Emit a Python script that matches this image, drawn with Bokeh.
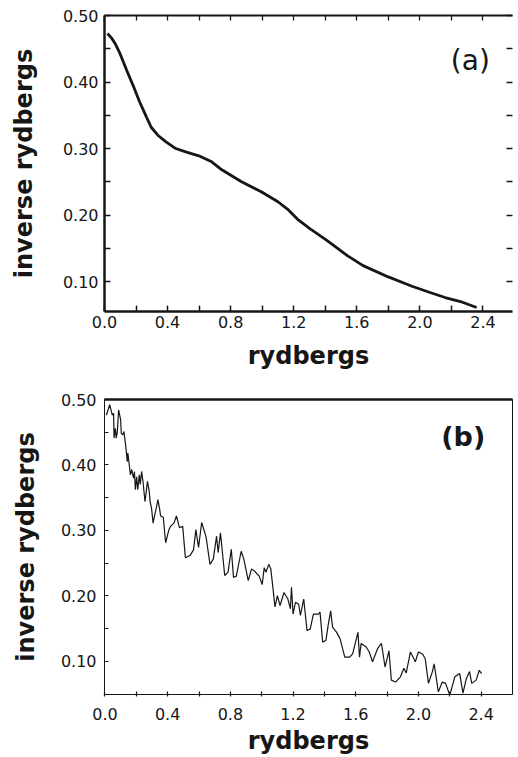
from bokeh.plotting import figure
from bokeh.models import (Range1d, LinearAxis, FixedTicker, Label, PrintfTickFormatter,
                          CustomLabelingPolicy)
from bokeh.layouts import column
from bokeh.embed import file_html
from bokeh.resources import INLINE

# ---------------- data ----------------
x_ticks = [0.0, 0.4, 0.8, 1.2, 1.6, 2.0, 2.4]
x_minor = [0.2, 0.6, 1.0, 1.4, 1.8, 2.2]
y_ticks = [0.10, 0.20, 0.30, 0.40, 0.50]
y_minor = [0.15, 0.25, 0.35, 0.45]
y_all = [0.10, 0.15, 0.20, 0.25, 0.30, 0.35, 0.40, 0.45, 0.50]

# panel (a): smooth curve
xa = [0.019, 0.045, 0.067, 0.098, 0.140, 0.181, 0.223, 0.265, 0.296, 0.338,
      0.390, 0.452, 0.515, 0.598, 0.680, 0.744, 0.869, 0.994, 1.100, 1.160,
      1.223, 1.300, 1.410, 1.540, 1.640, 1.800, 1.950, 2.060, 2.160, 2.270,
      2.360]
ya = [0.473, 0.466, 0.458, 0.443, 0.418, 0.395, 0.370, 0.348, 0.332, 0.320,
      0.310, 0.300, 0.295, 0.289, 0.280, 0.268, 0.250, 0.235, 0.220, 0.209,
      0.194, 0.180, 0.162, 0.139, 0.124, 0.107, 0.093, 0.084, 0.076, 0.069,
      0.061]

# panel (b): noisy curve
xb = [0.009, 0.030, 0.047, 0.055, 0.058, 0.066, 0.072, 0.079, 0.087, 0.100,
      0.104, 0.114, 0.121, 0.129, 0.135, 0.142, 0.146, 0.156, 0.162, 0.171,
      0.177, 0.183, 0.188, 0.194, 0.202, 0.209, 0.219, 0.225, 0.234, 0.244,
      0.255, 0.261, 0.271, 0.282, 0.288, 0.297, 0.307, 0.318, 0.330, 0.338,
      0.349, 0.355, 0.372, 0.387, 0.408, 0.418, 0.440, 0.456, 0.475, 0.496,
      0.513, 0.544, 0.565, 0.580, 0.597, 0.617, 0.645, 0.670, 0.691, 0.712,
      0.722, 0.737, 0.764, 0.785, 0.806, 0.820, 0.838, 0.869, 0.886, 0.914,
      0.935, 0.953, 0.984, 1.003, 1.016, 1.027, 1.045, 1.058, 1.085, 1.100,
      1.117, 1.142, 1.167, 1.183, 1.190, 1.200, 1.215, 1.236, 1.247, 1.268,
      1.289, 1.309, 1.330, 1.362, 1.372, 1.389, 1.410, 1.424, 1.440, 1.452,
      1.478, 1.500, 1.530, 1.560, 1.580, 1.614, 1.624, 1.634, 1.665, 1.686,
      1.707, 1.739, 1.764, 1.787, 1.812, 1.827, 1.854, 1.885, 1.907, 1.922,
      1.949, 1.980, 2.000, 2.026, 2.043, 2.064, 2.089, 2.100, 2.127, 2.152,
      2.173, 2.200, 2.232, 2.263, 2.284, 2.305, 2.326, 2.340, 2.368, 2.388,
      2.403]
yb = [0.476, 0.492, 0.476, 0.479, 0.441, 0.456, 0.441, 0.451, 0.484, 0.469,
      0.448, 0.446, 0.451, 0.436, 0.423, 0.405, 0.418, 0.398, 0.385, 0.393,
      0.385, 0.380, 0.390, 0.362, 0.382, 0.362, 0.385, 0.370, 0.390, 0.372,
      0.344, 0.354, 0.375, 0.360, 0.344, 0.334, 0.311, 0.324, 0.337, 0.347,
      0.332, 0.322, 0.320, 0.281, 0.301, 0.306, 0.311, 0.322, 0.304, 0.306,
      0.258, 0.262, 0.270, 0.301, 0.274, 0.312, 0.290, 0.248, 0.256, 0.291,
      0.266, 0.296, 0.231, 0.236, 0.271, 0.228, 0.230, 0.268, 0.256, 0.223,
      0.241, 0.238, 0.230, 0.217, 0.243, 0.236, 0.248, 0.241, 0.183, 0.200,
      0.185, 0.205, 0.195, 0.180, 0.213, 0.172, 0.190, 0.187, 0.170, 0.195,
      0.147, 0.149, 0.172, 0.172, 0.175, 0.129, 0.132, 0.155, 0.177, 0.152,
      0.144, 0.134, 0.106, 0.106, 0.111, 0.144, 0.106, 0.127, 0.122, 0.114,
      0.099, 0.119, 0.127, 0.091, 0.116, 0.071, 0.068, 0.076, 0.089, 0.082,
      0.114, 0.099, 0.114, 0.111, 0.104, 0.066, 0.084, 0.096, 0.053, 0.068,
      0.066, 0.048, 0.076, 0.081, 0.051, 0.073, 0.084, 0.066, 0.071, 0.086,
      0.081]

x_title = "rydbergs"
y_title = "inverse rydbergs"
INK = "#161616"
FONT = "DejaVu Sans"


def style_ticks(ax, tin, tout, width=1.2):
    ax.major_tick_in = tin
    ax.major_tick_out = tout
    ax.minor_tick_in = tin
    ax.minor_tick_out = tout
    ax.major_tick_line_color = INK
    ax.minor_tick_line_color = INK
    ax.major_tick_line_width = width
    ax.minor_tick_line_width = width
    ax.axis_line_color = INK


def style_labels(ax, standoff):
    ax.major_label_text_font = FONT
    ax.major_label_text_font_size = "16px"
    ax.major_label_text_color = INK
    ax.major_label_standoff = standoff
    ax.axis_label_text_font = FONT
    ax.axis_label_text_font_style = "bold"
    ax.axis_label_text_font_size = "24px"
    ax.axis_label_text_color = INK


def blank_axis(ax):
    # ticks only: no tick label is drawn
    ax.major_label_text_font_size = "0px"
    ax.major_label_standoff = 0
    ax.major_label_policy = CustomLabelingPolicy(code="""
        for (const i of [...indices]) { indices.unset(i) }
        return indices
    """)


# ---------------- panel (a) ----------------
pA = figure(width=518, height=380, x_range=Range1d(0, 2.5875), y_range=Range1d(0.055, 0.50),
            output_backend="svg", toolbar_location=None,
            min_border_left=104, min_border_right=0, min_border_top=15, min_border_bottom=69,
            outline_line_color=None)
pA.xgrid.grid_line_color = None
pA.ygrid.grid_line_color = None

xa_ax = pA.xaxis[0]
xa_ax.ticker = FixedTicker(ticks=x_ticks, minor_ticks=x_minor)
xa_ax.formatter = PrintfTickFormatter(format="%.1f")
xa_ax.axis_label = x_title
xa_ax.axis_line_width = 2.5
style_ticks(xa_ax, 6, 0, 1.5)
style_labels(xa_ax, 4)
xa_ax.axis_label_standoff = 11

ya_ax = pA.yaxis[0]
ya_ax.ticker = FixedTicker(ticks=y_ticks, minor_ticks=y_minor)
ya_ax.formatter = PrintfTickFormatter(format="%.2f")
ya_ax.axis_label = y_title
ya_ax.axis_line_width = 2.5
style_ticks(ya_ax, 6, 0, 1.5)
style_labels(ya_ax, 6)
ya_ax.axis_label_standoff = 22

topA = LinearAxis(ticker=FixedTicker(ticks=x_ticks, minor_ticks=x_minor))
style_ticks(topA, 5, 0, 1.3)
topA.axis_line_width = 2
blank_axis(topA)
pA.add_layout(topA, "above")

rightA = LinearAxis(ticker=FixedTicker(ticks=y_all, minor_ticks=[]))
style_ticks(rightA, 6, 0, 1.5)
rightA.axis_line_color = None
blank_axis(rightA)
pA.add_layout(rightA, "right")

pA.line(xa, ya, line_color=INK, line_width=2.8)
pA.add_layout(Label(x=2.32, y=0.432, text="(a)", text_align="center", text_baseline="middle",
                    text_font=FONT, text_font_size="28px", text_color=INK))

# ---------------- panel (b) ----------------
pB = figure(width=518, height=377, x_range=Range1d(-0.003, 2.60), y_range=Range1d(0.049, 0.50),
            output_backend="svg", toolbar_location=None,
            min_border_left=98, min_border_right=6, min_border_top=19, min_border_bottom=61,
            outline_line_color=INK, outline_line_width=1)
pB.xgrid.grid_line_color = None
pB.ygrid.grid_line_color = None

xb_ax = pB.xaxis[0]
xb_ax.ticker = FixedTicker(ticks=x_ticks, minor_ticks=x_minor)
xb_ax.formatter = PrintfTickFormatter(format="%.1f")
xb_ax.axis_label = x_title
xb_ax.axis_line_width = 1
style_ticks(xb_ax, 3, 2, 1.2)
style_labels(xb_ax, 11)
xb_ax.axis_label_standoff = 4

yb_ax = pB.yaxis[0]
yb_ax.ticker = FixedTicker(ticks=y_ticks, minor_ticks=y_minor)
yb_ax.formatter = PrintfTickFormatter(format="%.2f")
yb_ax.axis_label = y_title
yb_ax.axis_line_width = 1
style_ticks(yb_ax, 4, 0, 1.2)
style_labels(yb_ax, 8)
yb_ax.axis_label_standoff = 18

topB = LinearAxis(ticker=FixedTicker(ticks=[], minor_ticks=[]))
topB.axis_line_width = 2.5
topB.axis_line_color = INK
blank_axis(topB)
pB.add_layout(topB, "above")

pB.line(xb, yb, line_color=INK, line_width=1.2)
pB.add_layout(Label(x=2.286, y=0.443, text="(b)", text_align="center", text_baseline="middle",
                    text_font=FONT, text_font_size="27px", text_font_style="bold", text_color=INK))

layout = column(pA, pB, spacing=0)
open("out.html", "w").write(file_html(layout, INLINE))
